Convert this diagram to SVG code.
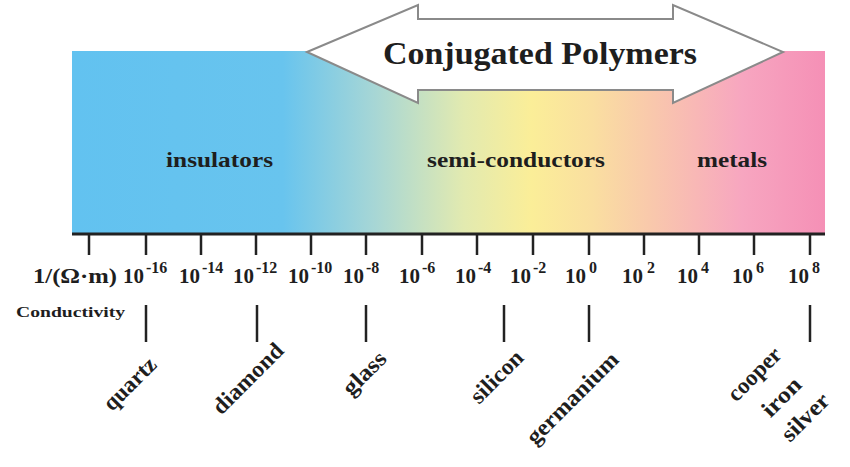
<svg xmlns="http://www.w3.org/2000/svg" width="850" height="467" viewBox="0 0 850 467">
<defs>
<linearGradient id="band" x1="0" y1="0" x2="1" y2="0">
<stop offset="0" stop-color="#62C2F0"/>
<stop offset="0.28" stop-color="#68C4EE"/>
<stop offset="0.4" stop-color="#A6D6D6"/>
<stop offset="0.52" stop-color="#E2EAB0"/>
<stop offset="0.61" stop-color="#FBEE98"/>
<stop offset="0.69" stop-color="#FADFA0"/>
<stop offset="0.77" stop-color="#F9C8AC"/>
<stop offset="0.89" stop-color="#F7A6C0"/>
<stop offset="1" stop-color="#F590B6"/>
</linearGradient>
<style>
text{font-family:"Liberation Serif","Times New Roman",serif;font-weight:bold;fill:#1e1e1e}
.tick{stroke:#222;stroke-width:2.5}
.mark{stroke:#222;stroke-width:2.5}
.ax{font-size:21px}
.sup{font-size:16px}
.mat{font-size:23px}
.reg{font-size:21px}
</style>
</defs>
<rect width="850" height="467" fill="#fff"/>
<g id="band-rect"><rect x="72" y="51" width="753" height="183" fill="url(#band)"/></g>
<g id="arrow">
<polygon points="307,52 418,5 418,19 673,19 673,5 783,52 673,103 673,90 418,90 418,103" fill="#fff" stroke="#8a8a8a" stroke-width="2"/>
<text x="540" y="64" font-size="31" text-anchor="middle" textLength="314" lengthAdjust="spacingAndGlyphs">Conjugated Polymers</text>
</g>
<g id="regions">
<text class="reg" x="219.5" y="167" text-anchor="middle" textLength="107" lengthAdjust="spacingAndGlyphs">insulators</text>
<text class="reg" x="516" y="167" text-anchor="middle" textLength="178" lengthAdjust="spacingAndGlyphs">semi-conductors</text>
<text class="reg" x="732" y="167" text-anchor="middle" textLength="70" lengthAdjust="spacingAndGlyphs">metals</text>
</g>
<g id="axis">
<line x1="72" y1="234" x2="825" y2="234" stroke="#222" stroke-width="3"/>
<line class="tick" x1="89" y1="234" x2="89" y2="255"/>
<line class="tick" x1="146" y1="234" x2="146" y2="255"/>
<line class="tick" x1="201" y1="234" x2="201" y2="255"/>
<line class="tick" x1="256" y1="234" x2="256" y2="255"/>
<line class="tick" x1="311" y1="234" x2="311" y2="255"/>
<line class="tick" x1="366" y1="234" x2="366" y2="255"/>
<line class="tick" x1="422" y1="234" x2="422" y2="255"/>
<line class="tick" x1="477" y1="234" x2="477" y2="255"/>
<line class="tick" x1="533" y1="234" x2="533" y2="255"/>
<line class="tick" x1="589" y1="234" x2="589" y2="255"/>
<line class="tick" x1="644" y1="234" x2="644" y2="255"/>
<line class="tick" x1="699" y1="234" x2="699" y2="255"/>
<line class="tick" x1="754" y1="234" x2="754" y2="255"/>
<line class="tick" x1="810" y1="234" x2="810" y2="255"/>
</g>
<g id="axis-labels">
<text class="ax" x="33" y="283" textLength="84" lengthAdjust="spacingAndGlyphs">1/(Ω·m)</text>
<text class="ax" x="123" y="283">10<tspan class="sup" dy="-10" dx="2">-16</tspan></text>
<text class="ax" x="179" y="283">10<tspan class="sup" dy="-10" dx="2">-14</tspan></text>
<text class="ax" x="233" y="283">10<tspan class="sup" dy="-10" dx="2">-12</tspan></text>
<text class="ax" x="288" y="283">10<tspan class="sup" dy="-10" dx="2">-10</tspan></text>
<text class="ax" x="343" y="283">10<tspan class="sup" dy="-10" dx="2">-8</tspan></text>
<text class="ax" x="399" y="283">10<tspan class="sup" dy="-10" dx="2">-6</tspan></text>
<text class="ax" x="455" y="283">10<tspan class="sup" dy="-10" dx="2">-4</tspan></text>
<text class="ax" x="510" y="283">10<tspan class="sup" dy="-10" dx="2">-2</tspan></text>
<text class="ax" x="565" y="283">10<tspan class="sup" dy="-10" dx="3">0</tspan></text>
<text class="ax" x="622" y="283">10<tspan class="sup" dy="-10" dx="4">2</tspan></text>
<text class="ax" x="677" y="283">10<tspan class="sup" dy="-10" dx="3">4</tspan></text>
<text class="ax" x="732" y="283">10<tspan class="sup" dy="-10" dx="3">6</tspan></text>
<text class="ax" x="788" y="283">10<tspan class="sup" dy="-10" dx="3">8</tspan></text>
<text x="16" y="317" font-size="15" textLength="109" lengthAdjust="spacingAndGlyphs">Conductivity</text>
</g>
<g id="connectors">
<line class="mark" x1="146" y1="305" x2="146" y2="342"/>
<line class="mark" x1="257" y1="305" x2="257" y2="342"/>
<line class="mark" x1="366" y1="305" x2="366" y2="342"/>
<line class="mark" x1="504" y1="305" x2="504" y2="342"/>
<line class="mark" x1="589" y1="305" x2="589" y2="342"/>
<line class="mark" x1="810" y1="305" x2="810" y2="342"/>
</g>
<g id="materials">
<text class="mat" transform="translate(158,366) rotate(-45)" text-anchor="end" textLength="65" lengthAdjust="spacingAndGlyphs">quartz</text>
<text class="mat" transform="translate(285,352) rotate(-45)" text-anchor="end" textLength="90" lengthAdjust="spacingAndGlyphs">diamond</text>
<text class="mat" transform="translate(388,360) rotate(-45)" text-anchor="end" textLength="52" lengthAdjust="spacingAndGlyphs">glass</text>
<text class="mat" transform="translate(525,359) rotate(-45)" text-anchor="end" textLength="65" lengthAdjust="spacingAndGlyphs">silicon</text>
<text class="mat" transform="translate(620,361) rotate(-45)" text-anchor="end" textLength="120" lengthAdjust="spacingAndGlyphs">germanium</text>
<text class="mat" transform="translate(783,356) rotate(-45)" text-anchor="end" textLength="66" lengthAdjust="spacingAndGlyphs">cooper</text>
<text class="mat" transform="translate(803,386) rotate(-45)" text-anchor="end" textLength="46" lengthAdjust="spacingAndGlyphs">iron</text>
<text class="mat" transform="translate(831,402) rotate(-45)" text-anchor="end" textLength="58" lengthAdjust="spacingAndGlyphs">silver</text>
</g>
</svg>
